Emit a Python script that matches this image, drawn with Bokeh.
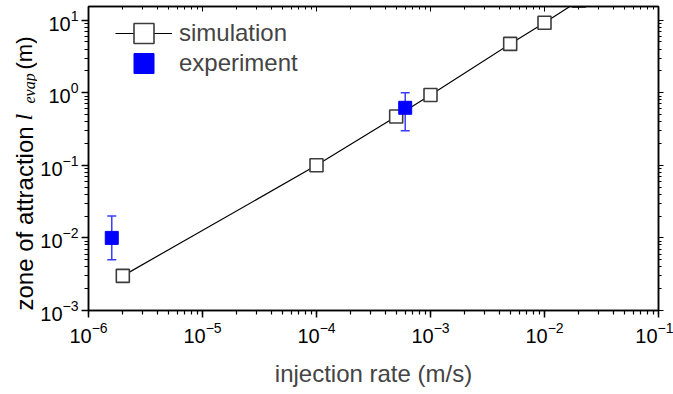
import math
from bokeh.plotting import figure
from bokeh.layouts import row
from bokeh.models import (ColumnDataSource, Whisker, TeeHead, Legend, LegendItem,
                          LogAxis, LogTicker, Range1d)
from bokeh.core.properties import value
from bokeh.embed import file_html
from bokeh.resources import INLINE

# ---- data ----
sim_x = [2e-6, 1e-4, 5e-4, 1e-3, 5e-3, 1e-2, 2e-2]
sim_y = [3.0e-3, 0.10, 0.47, 0.93, 4.7, 9.2, 18.5]

exp_x = [1.6e-6, 6.0e-4]
exp_y = [0.010, 0.62]
exp_lo = [0.005, 0.30]
exp_hi = [0.020, 1.00]

x_label = "injection rate (m/s)"
y_label_parts = ["zone of attraction", "l", "evap", "(m)"]

FONT = "Liberation Sans"
SERIF = "Liberation Serif"

W_LAB = 37
H = 394
B_TOP, B_BOT = 6, 84

# ---- main plot ----
p = figure(width=673 - W_LAB, height=H, x_axis_type="log", y_axis_type="log",
           x_range=(1e-6, 1e-1), y_range=(1e-3, 15.4),
           output_backend="svg", toolbar_location=None,
           min_border_left=49, min_border_right=15, min_border_top=B_TOP,
           min_border_bottom=B_BOT)
p.grid.visible = False
p.outline_line_color = "black"
p.outline_line_width = 1.5

for ax in (p.xaxis[0], p.yaxis[0]):
    ax.ticker = LogTicker(num_minor_ticks=10)
    ax.axis_line_width = 1.5
    ax.major_tick_line_width = 1.5
    ax.minor_tick_line_width = 1.2
    ax.major_tick_out = 7
    ax.major_tick_in = 0
    ax.minor_tick_out = 4
    ax.minor_tick_in = 0
    ax.major_label_text_font = FONT
    ax.major_label_text_font_size = "20px"
    ax.major_label_text_color = "black"

p.xaxis.major_label_standoff = 4
p.yaxis.major_label_standoff = 3
p.xaxis.axis_label = x_label
p.xaxis.axis_label_text_font = FONT
p.xaxis.axis_label_text_font_size = "24px"
p.xaxis.axis_label_text_font_style = "normal"
p.xaxis.axis_label_standoff = 14

# mirrored axes (ticks only)
top_ax = LogAxis(ticker=LogTicker(num_minor_ticks=10), major_label_text_font_size="1px",
                 major_label_text_alpha=0,
                 major_label_standoff=0, major_tick_in=5, major_tick_out=0,
                 minor_tick_in=3, minor_tick_out=0, axis_line_width=1.5)
right_ax = LogAxis(ticker=LogTicker(num_minor_ticks=10), major_label_text_font_size="1px",
                   major_label_text_alpha=0,
                   major_label_standoff=0, major_tick_in=0, major_tick_out=5,
                   minor_tick_in=0, minor_tick_out=3, axis_line_width=1.5)
p.add_layout(top_ax, "above")
p.add_layout(right_ax, "right")

sim_src = ColumnDataSource(dict(x=sim_x, y=sim_y))
exp_src = ColumnDataSource(dict(x=exp_x, y=exp_y, lower=exp_lo, upper=exp_hi))

line_r = p.line("x", "y", source=sim_src, line_color="black", line_width=1.2)
sim_r = p.scatter("x", "y", source=sim_src, marker="square", size=13,
                  fill_color="white", line_color="#3c3c3c", line_width=1.6)

wh = Whisker(base="x", lower="lower", upper="upper", source=exp_src, dimension="height",
             line_color="#3b3bff", line_width=1.5,
             upper_head=TeeHead(size=9, line_color="#3b3bff", line_width=1.5),
             lower_head=TeeHead(size=9, line_color="#3b3bff", line_width=1.5))
p.add_layout(wh)
exp_r = p.scatter("x", "y", source=exp_src, marker="square", size=13,
                  fill_color="#0000ff", line_color="#0000ff", line_width=1)

common = dict(glyph_width=57, glyph_height=50, padding=0, margin=0, label_standoff=7,
              label_text_font=FONT, label_text_font_size="24px",
              border_line_alpha=0, background_fill_alpha=0)
leg1 = Legend(items=[LegendItem(label="simulation", renderers=[line_r, sim_r])],
              location=(27, 252), **common)
leg2 = Legend(items=[LegendItem(label="experiment", renderers=[exp_r])],
              location=(27, 222), **common)
p.add_layout(leg1)
p.add_layout(leg2)

# ---- y-axis title panel (composite text: italic l with subscript) ----
# data y of this panel = pixels from the top of the page, counted upward (H - y)
q = figure(width=W_LAB, height=H, x_range=Range1d(0, W_LAB),
           y_range=Range1d(H - (H - B_BOT), H - B_TOP),
           x_axis_location=None, y_axis_location=None, title=None,
           output_backend="svg", toolbar_location=None,
           min_border_left=0, min_border_right=0, min_border_top=B_TOP,
           min_border_bottom=B_BOT)
q.grid.visible = False
q.outline_line_color = None

ang = math.pi / 2
q.text(x=[23.7], y=[H - 310], text=[y_label_parts[0]], angle=ang, text_font=value(FONT),
       text_font_size="24px", text_baseline="middle", text_align="left",
       text_color="black")
q.text(x=[23.9], y=[H - 120], text=[y_label_parts[1]], angle=ang, text_font=value(SERIF),
       text_font_style="italic", text_font_size="24px", text_baseline="middle",
       text_align="left", text_color="black")
q.text(x=[28.8], y=[H - 103], text=[y_label_parts[2]], angle=ang, text_font=value(SERIF),
       text_font_style="italic", text_font_size="16px", text_baseline="middle",
       text_align="left", text_color="black")
q.text(x=[24.4], y=[H - 69], text=[y_label_parts[3]], angle=ang, text_font=value(FONT),
       text_font_size="22px", text_baseline="middle", text_align="left",
       text_color="black")

layout = row(q, p, spacing=0)
open("out.html", "w").write(file_html(layout, INLINE))
